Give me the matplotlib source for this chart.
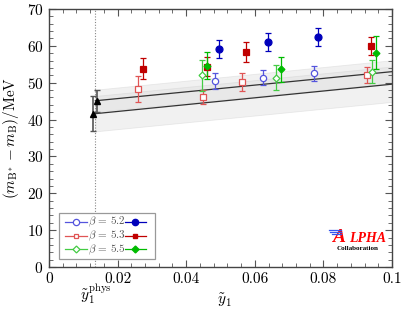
import numpy as np
import matplotlib
matplotlib.use("Agg")
import matplotlib.pyplot as plt
from matplotlib.lines import Line2D
from matplotlib.patches import Rectangle
from matplotlib.ticker import MultipleLocator

plt.rcParams['font.family'] = 'serif'
plt.rcParams['font.serif'] = ['cmr10']
plt.rcParams['mathtext.fontset'] = 'cm'
plt.rcParams['axes.formatter.use_mathtext'] = True
plt.rcParams['axes.unicode_minus'] = False

# data
y1_phys = 0.0135

# beta = 5.2
b52_open_x = [0.0483, 0.0625, 0.0772]
b52_open_y = [50.5, 51.4, 52.5]
b52_open_e = [2.2, 2.1, 2.1]
b52_fill_x = [0.0497, 0.0638, 0.0784]
b52_fill_y = [59.1, 61.0, 62.4]
b52_fill_e = [2.4, 2.4, 2.5]

# beta = 5.3
b53_open_x = [0.0260, 0.0449, 0.0563, 0.0928]
b53_open_y = [48.3, 46.2, 50.2, 52.1]
b53_open_e = [3.5, 1.9, 2.5, 2.2]
b53_fill_x = [0.0273, 0.0461, 0.0574, 0.0940]
b53_fill_y = [53.8, 54.3, 58.4, 59.9]
b53_fill_e = [2.9, 2.6, 2.7, 2.4]

# beta = 5.5
b55_open_x = [0.0447, 0.0663, 0.0941]
b55_open_y = [52.0, 51.4, 53.0]
b55_open_e = [4.2, 3.3, 3.1]
b55_fill_x = [0.0461, 0.0675, 0.0953]
b55_fill_y = [54.6, 53.6, 58.1]
b55_fill_e = [3.6, 3.3, 4.5]

# physical point results
phys_x = [0.0129, 0.0141]
phys_y = [41.6, 45.1]
phys_e = [4.8, 3.0]

# fit lines (value at y1_phys and at 0.1) with half widths of the bands
fit_x = [y1_phys, 0.1]
fit_upper = [45.1, 53.0]
fit_upper_err = [3.0, 3.1]
fit_lower = [41.6, 49.6]
fit_lower_err = [4.8, 4.8]

fig = plt.figure(figsize=(4.07, 3.10), dpi=100)
ax = fig.add_axes([0.1204, 0.1387, 0.8428, 0.8323])

# bands and fit lines
fx = np.array(fit_x)
for yc, ye in [(fit_upper, fit_upper_err), (fit_lower, fit_lower_err)]:
    yc = np.array(yc)
    ye = np.array(ye)
    ax.fill_between(fx, yc - ye, yc + ye, color='#d8d8d8', alpha=0.35,
                    edgecolor='#c8c8c8', linewidth=0.6, zorder=1)
    ax.plot(fx, yc, color='#333333', lw=0.9, zorder=2)

ax.axvline(y1_phys, color='#888888', lw=0.8, ls=(0, (1, 1.5)), zorder=1)

series = [
    (b52_open_x, b52_open_y, b52_open_e, 'o', '#5555dd', 'none', 4.5),
    (b52_fill_x, b52_fill_y, b52_fill_e, 'o', '#0000bb', '#0000bb', 5),
    (b53_open_x, b53_open_y, b53_open_e, 's', '#e05555', 'none', 4),
    (b53_fill_x, b53_fill_y, b53_fill_e, 's', '#c00000', '#c00000', 4),
    (b55_open_x, b55_open_y, b55_open_e, 'D', '#44cc44', 'none', 3.5),
    (b55_fill_x, b55_fill_y, b55_fill_e, 'D', '#00bb00', '#00bb00', 3.5),
]
for x, y, e, m, c, fc, ms in series:
    ax.errorbar(x, y, yerr=e, fmt=m, color=c, mfc=fc if fc != 'none' else 'white',
                mec=c, ms=ms, mew=0.9, elinewidth=0.9, capsize=2.2, capthick=0.9,
                zorder=4)

ax.errorbar(phys_x, phys_y, yerr=phys_e, fmt='^', color='black', ecolor='#555555',
            ms=4.5, elinewidth=1.2, capsize=2.5, capthick=1.0, zorder=5)

ax.set_xlim(0, 0.1)
ax.set_ylim(0, 70)
ax.xaxis.set_major_locator(MultipleLocator(0.02))
ax.xaxis.set_minor_locator(MultipleLocator(0.004))
ax.yaxis.set_major_locator(MultipleLocator(10))
ax.yaxis.set_minor_locator(MultipleLocator(2))
ax.set_xticks([0, 0.02, 0.04, 0.06, 0.08, 0.1])
ax.set_xticklabels(['0', '0.02', '0.04', '0.06', '0.08', '0.1'])
ax.tick_params(which='both', direction='in', top=True, right=True,
               labelsize=11, color='#555555', pad=4)
ax.tick_params(which='major', length=5, width=0.8)
ax.tick_params(which='minor', length=3, width=0.6)
for s in ax.spines.values():
    s.set_color('#444444')
    s.set_linewidth(1.0)

ax.set_ylabel(r'$(m_{\mathrm{B}^*}-m_{\mathrm{B}})/\mathrm{MeV}$', fontsize=11, labelpad=4)
ax.text(0.51, -0.13, r'$\tilde{y}_1$', transform=ax.transAxes,
        ha='center', va='center', fontsize=11)
ax.text(y1_phys, -0.106, r'$\tilde{y}_1^{\mathrm{phys}}$', transform=ax.get_xaxis_transform(),
        ha='center', va='center', fontsize=11)

# legend drawn by hand: open marker, label, filled marker
ax.add_patch(Rectangle((0.029, 0.031), 0.28, 0.178, transform=ax.transAxes,
                       facecolor='white', edgecolor='#999999', lw=0.9, zorder=6))
legend_rows = [
    ('o', '#5555dd', '#0000bb', 4.5, r'$\beta\,=\,5.2$', 0.174),
    ('s', '#e05555', '#c00000', 3.5, r'$\beta\,=\,5.3$', 0.119),
    ('D', '#44cc44', '#00bb00', 3.5, r'$\beta\,=\,5.5$', 0.068),
]
for m, c_open, c_fill, ms, lab, yy in legend_rows:
    ax.add_line(Line2D([0.047, 0.110], [yy, yy], transform=ax.transAxes, color=c_open,
                       lw=0.9, zorder=7))
    ax.add_line(Line2D([0.078], [yy], transform=ax.transAxes, marker=m, ms=ms,
                       mfc='white', mec=c_open, mew=0.9, zorder=8))
    ax.text(0.115, yy, lab, transform=ax.transAxes, va='center', ha='left',
            fontsize=8, color='#555555', zorder=8)
    ax.add_line(Line2D([0.221, 0.283], [yy, yy], transform=ax.transAxes, color=c_fill,
                       lw=0.9, zorder=7))
    ax.add_line(Line2D([0.252], [yy], transform=ax.transAxes, marker=m, ms=ms,
                       mfc=c_fill, mec=c_fill, zorder=8))

# ALPHA Collaboration logo
ax.text(0.826, 0.098, 'A', transform=ax.transAxes, color='red', fontsize=14,
        family='Liberation Serif', style='italic', weight='bold', ha='left', va='baseline')
ax.text(0.876, 0.098, 'LPHA', transform=ax.transAxes, color='red', fontsize=10,
        family='Liberation Serif', style='italic', weight='bold', ha='left', va='baseline')
ax.text(0.962, 0.066, 'Collaboration', transform=ax.transAxes, color='black', fontsize=5,
        family='Liberation Serif', weight='bold', ha='right', va='baseline')
for k, yy in enumerate([0.145, 0.137, 0.129]):
    ax.add_line(Line2D([0.816 + 0.004 * k, 0.852], [yy, yy], transform=ax.transAxes,
                       color='#3355ee', lw=0.9, zorder=7))

fig.savefig('out.png', dpi=100)
